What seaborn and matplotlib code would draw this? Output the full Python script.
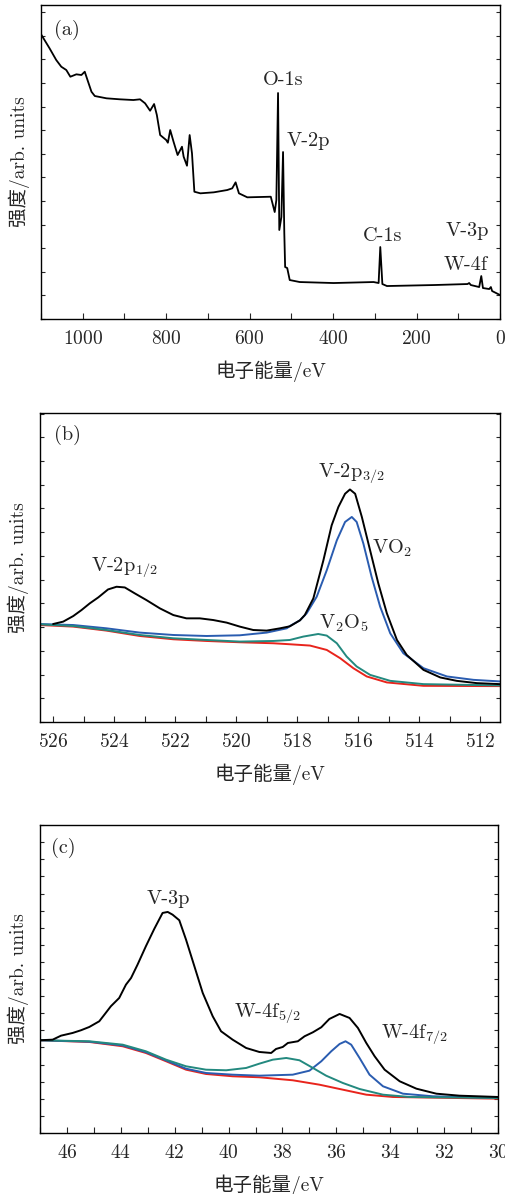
import numpy as np
import pandas as pd
import seaborn as sns
import matplotlib
matplotlib.use("Agg")
import matplotlib.pyplot as plt
from matplotlib.ticker import MultipleLocator

# (a) survey spectrum, binding energy (eV) vs intensity (arb.)
survey_ev = [1103.6, 1091.6, 1079.5, 1063.5, 1051.4, 1039.4, 1029.7, 1015.3, 1003.2, 995.2,
             987.2, 979.1, 971.1, 943.0, 910.8, 878.7, 862.7, 850.6, 838.6, 829.0, 822.4,
             814.5, 800.0, 796.0, 790.4, 782.4, 772.7, 762.2, 758.2, 750.2, 743.8, 738.2,
             732.5, 718.1, 686.0, 653.8, 641.8, 633.7, 625.7, 605.6, 549.4, 540, 536, 532,
             529, 524, 520, 517, 515, 510, 504, 480, 399, 303, 291, 287, 282, 271, 158, 78,
             74, 70, 50, 45, 41, 26, 22, 19, 0]
survey_int = [287.3, 279, 270.7, 259, 252.3, 249, 242.3, 244.7, 244, 247.3, 237.3, 227.3,
              223, 220.7, 219.7, 219, 219.7, 215.7, 208.3, 215, 204, 184, 179, 176.3, 189,
              177.3, 164, 172.3, 162.3, 153.3, 184, 165.7, 127.3, 125.7, 126.7, 129, 130.7,
              136.7, 125.7, 121.7, 122.3, 107, 119, 226, 89, 102, 167, 86, 52, 51, 39, 37,
              36, 37, 36, 72, 35, 33, 34, 35, 36, 34, 32, 43, 31, 30, 32, 28, 24]

# (b) V-2p region
v2p_ev = [526.00, 525.67, 525.34, 525.07, 524.80, 524.52, 524.20, 523.92, 523.65, 523.32,
          522.94, 522.50, 522.06, 521.63, 521.19, 520.75, 520.31, 519.88, 519.44, 519.00,
          518.56, 518.24, 517.91, 517.75, 517.47, 517.14, 516.87, 516.65, 516.43, 516.27,
          516.10, 515.88, 515.61, 515.34, 515.06, 514.73, 514.41, 513.86, 513.31, 512.77,
          512.11, 511.35]
v2p_int = [98.3, 100.7, 106.3, 112.3, 119, 125, 133, 135.7, 135, 129, 122.3, 114, 107.3,
           104, 104, 102.3, 99.7, 95.7, 92.3, 91.7, 94, 96, 102, 107.3, 124, 162.3, 197.3,
           215.7, 229, 233.3, 229, 205.7, 172.3, 139, 109, 82.3, 67.3, 52.3, 44.7, 41.3,
           39, 38]
vo2_ev = [526.44, 525.34, 524.25, 523.16, 522.06, 520.97, 519.88, 519.00, 518.34, 518.24,
          517.91, 517.69, 517.36, 517.03, 516.70, 516.43, 516.21, 516.05, 515.83, 515.56,
          515.28, 514.95, 514.52, 513.86, 513.09, 512.22, 511.35]
vo2_int = [98.3, 97.3, 94, 89.7, 87.3, 86.3, 87, 89.7, 94, 96.3, 102, 109, 125.7, 152.3,
           182.3, 200.7, 205.7, 200.7, 179, 145.7, 115.7, 89, 69, 54, 45.7, 42.3, 40.7]
v2o5_ev = [526.44, 525.34, 524.25, 523.16, 522.06, 520.97, 519.88, 518.78, 518.24, 517.80,
           517.31, 517.03, 516.70, 516.38, 516.05, 515.61, 514.95, 513.86, 511.35]
v2o5_int = [98, 96.3, 92.3, 87.3, 84, 82.3, 80.7, 81.3, 82.3, 85.7, 88.3, 86.7, 79, 65.7,
            55.7, 47.3, 41.3, 38, 36.7]
bg_b_ev = [526.44, 525.34, 524.25, 523.16, 522.06, 520.97, 519.88, 518.78, 518.24, 517.58,
           517.03, 516.59, 516.16, 515.72, 515.06, 513.86, 511.35]
bg_b_int = [97.3, 95.7, 91.7, 86.3, 83, 81.3, 80, 79, 78, 76.7, 72.3, 64, 54, 45.7, 39.7,
            36.3, 36]

# (c) V-3p / W-4f region
v3p_ev = [47.02, 46.53, 46.22, 45.79, 45.48, 45.17, 44.80, 44.61, 44.37, 44.06, 43.81,
          43.62, 43.38, 43.07, 42.76, 42.45, 42.26, 42.08, 41.83, 41.58, 41.27, 40.96,
          40.59, 40.28, 39.85, 39.35, 38.86, 38.42, 38.24, 37.99, 37.80, 37.43, 37.18,
          36.87, 36.56, 36.26, 35.88, 35.51, 35.20, 34.89, 34.58, 34.21, 33.65, 33.03,
          32.29, 31.43, 30.00]
v3p_int = [92.7, 93.3, 97.3, 100, 102.7, 106, 111.7, 118.3, 126.7, 135, 148.3, 155, 168.3,
           186.7, 204, 220, 221, 218.3, 212.7, 193.3, 166.7, 140, 116.7, 101.7, 93.3, 85,
           81, 80, 84, 86, 90, 91.7, 96.7, 100.7, 105.7, 114, 119, 115, 105, 90, 76.7,
           63.3, 51.7, 44.3, 39.3, 37.3, 36]
w47_ev = [47.02, 45.17, 43.93, 43.07, 42.32, 41.58, 40.84, 39.85, 38.86, 37.62, 37.00,
          36.56, 36.19, 35.88, 35.66, 35.45, 35.14, 34.77, 34.27, 33.53, 32.42, 30.00]
w47_int = [92.7, 91.3, 87.5, 80.8, 72.5, 64.3, 60, 58.3, 57.3, 58.3, 62.3, 71.7, 81.7, 89,
           91.7, 88.3, 75, 58.3, 46.7, 39.3, 36.7, 35]
w45_ev = [47.02, 45.17, 43.93, 43.07, 42.32, 41.58, 40.84, 40.09, 39.35, 38.86, 38.36,
          37.86, 37.37, 36.87, 36.38, 35.76, 35.14, 34.27, 33.28, 30.00]
w45_int = [92.7, 91.7, 88.3, 81.7, 73.3, 66.7, 63.3, 62.7, 65, 69.3, 73.3, 75, 72.7, 65,
           57.3, 50, 44, 38.3, 36, 35]
bg_c_ev = [47.02, 45.17, 43.93, 43.07, 42.32, 41.58, 40.84, 39.85, 38.86, 37.62, 36.63,
           35.76, 34.89, 33.90, 30.00]
bg_c_int = [92.7, 91, 86.7, 80, 71.7, 63.3, 59, 56.7, 55.7, 52.7, 48.3, 43.3, 38.3, 36,
            34.3]

sns.set_theme(style="ticks")
plt.rcParams["font.family"] = ["cmr10", "Noto Sans CJK SC", "DejaVu Sans"]
plt.rcParams["mathtext.fontset"] = "cm"
plt.rcParams["axes.unicode_minus"] = False
plt.rcParams["axes.formatter.use_mathtext"] = True

BLACK = "#000000"
BLUE = "#2a5cb0"
TEAL = "#23897f"
RED = "#e8241c"
FS = 14
AFS = 14.6

fig = plt.figure(figsize=(5.05, 11.94), dpi=100)
ax_a = fig.add_axes([0.0812, 0.7328, 0.909, 0.263])
ax_b = fig.add_axes([0.0792, 0.3953, 0.911, 0.2588])
ax_c = fig.add_axes([0.0792, 0.0511, 0.907, 0.258])


def line(ax, x, y, color, lw=1.4):
    sns.lineplot(x=x, y=y, ax=ax, color=color, lw=lw, sort=False, errorbar=None)


def style(ax, xlim, ylim, major, minor, ystep):
    ax.set_xlim(*xlim)
    ax.set_ylim(*ylim)
    ax.xaxis.set_major_locator(MultipleLocator(major))
    ax.xaxis.set_minor_locator(MultipleLocator(minor))
    ax.yaxis.set_major_locator(MultipleLocator(ystep))
    ax.tick_params(axis="x", which="both", direction="in", top=False, labelsize=FS, pad=8,
                   length=4, width=0.8)
    ax.tick_params(axis="y", which="both", direction="in", left=True, right=True,
                   labelleft=False, length=3, width=0.8)
    for s in ax.spines.values():
        s.set_visible(True)
        s.set_linewidth(1.0)
        s.set_color("black")
    ax.set_xlabel("电子能量/eV", fontsize=FS, labelpad=9)
    ax.set_ylabel("强度/arb. units", fontsize=FS, labelpad=8)


# (a)
line(ax_a, survey_ev, survey_int, BLACK, lw=1.3)
style(ax_a, (1100, 0), (0, 314), 200, 100, 23.6)
ax_a.text(0.057, 0.92, "(a)", transform=ax_a.transAxes, fontsize=AFS, ha="center", va="center")
ax_a.text(520, 239, "O-1s", fontsize=AFS, ha="center", va="center")
ax_a.text(459, 178, "V-2p", fontsize=AFS, ha="center", va="center")
ax_a.text(282, 83, "C-1s", fontsize=AFS, ha="center", va="center")
ax_a.text(78, 88, "V-3p", fontsize=AFS, ha="center", va="center")
ax_a.text(82, 54, "W-4f", fontsize=AFS, ha="center", va="center")

# (b)
line(ax_b, bg_b_ev, bg_b_int, RED)
line(ax_b, vo2_ev, vo2_int, BLUE)
line(ax_b, v2o5_ev, v2o5_int, TEAL)
line(ax_b, v2p_ev, v2p_int, BLACK)
style(ax_b, (526.43, 511.35), (0, 310), 2, 1, 23.8)
ax_b.text(0.059, 0.929, "(b)", transform=ax_b.transAxes, fontsize=AFS, ha="center", va="center")
ax_b.text(516.23, 249.7, r"V-2p$_{3/2}$", fontsize=AFS, ha="center", va="center")
ax_b.text(514.88, 174.7, r"VO$_2$", fontsize=AFS, ha="center", va="center")
ax_b.text(523.65, 155.7, r"V-2p$_{1/2}$", fontsize=AFS, ha="center", va="center")
ax_b.text(516.48, 99, r"V$_2$O$_5$", fontsize=AFS, ha="center", va="center")

# (c)
line(ax_c, bg_c_ev, bg_c_int, RED)
line(ax_c, w47_ev, w47_int, BLUE)
line(ax_c, w45_ev, w45_int, TEAL)
line(ax_c, v3p_ev, v3p_int, BLACK)
style(ax_c, (47, 30), (0, 308), 2, 1, 17.1)
ax_c.text(0.05, 0.925, "(c)", transform=ax_c.transAxes, fontsize=AFS, ha="center", va="center")
ax_c.text(42.22, 234.3, "V-3p", fontsize=AFS, ha="center", va="center")
ax_c.text(38.55, 120, r"W-4f$_{5/2}$", fontsize=AFS, ha="center", va="center")
ax_c.text(33.10, 99.3, r"W-4f$_{7/2}$", fontsize=AFS, ha="center", va="center")

fig.savefig("out.png", dpi=100)
